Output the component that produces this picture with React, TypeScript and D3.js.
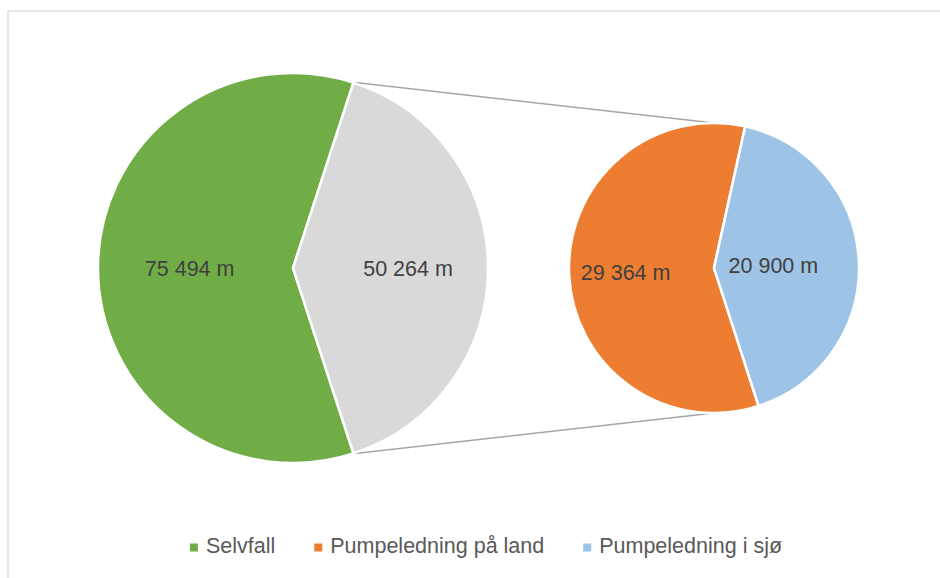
import React from "react";
import * as d3 from "d3";

const mainCategories = ["Selvfall", "Annet"];
const mainValues = [75494, 50264];
const subCategories = ["Pumpeledning på land", "Pumpeledning i sjø"];
const subValues = [29364, 20900];
const legendLabels = ["Selvfall", "Pumpeledning på land", "Pumpeledning i sjø"];
const mainColors = ["#70ad47", "#d9d9d9"];
const subColors = ["#ed7d31", "#9dc3e6"];
const legendColors = ["#70ad47", "#ed7d31", "#9dc3e6"];

const W = 940;
const H = 578;
const FONT = "'Liberation Sans', Arial, sans-serif";
const FS = 21.5;

const fmt = (v: number) => d3.format(",")(v).replace(/,/g, " ") + " m";

function measure(text: string): number {
  if (typeof document === "undefined") return text.length * FS * 0.5;
  const c = document.createElement("canvas");
  const ctx = c.getContext("2d");
  if (!ctx) return text.length * FS * 0.5;
  ctx.font = `${FS}px 'Liberation Sans', Arial, sans-serif`;
  return ctx.measureText(text).width;
}

export default function App() {
  const deg = Math.PI / 180;
  // main pie
  const mc: [number, number] = [293, 268];
  const mr = 195;
  const mainTotal = d3.sum(mainValues);
  const otherAngle = (mainValues[1] / mainTotal) * 2 * Math.PI;
  const mStart = Math.PI / 2 + otherAngle / 2;
  const mainPie = d3.pie<number>().sort(null).startAngle(mStart).endAngle(mStart + 2 * Math.PI);
  const mainArcs = mainPie(mainValues);
  const mainArc = d3.arc<d3.PieArcDatum<number>>().innerRadius(0).outerRadius(mr);

  // secondary pie
  const sc: [number, number] = [714, 268];
  const sr = 145;
  const sStart = 162.1 * deg;
  const subPie = d3.pie<number>().sort(null).startAngle(sStart).endAngle(sStart + 2 * Math.PI);
  const subArcs = subPie(subValues);
  const subArc = d3.arc<d3.PieArcDatum<number>>().innerRadius(0).outerRadius(sr);

  const mainLabelFrac = [0.53, 0.59];
  const subLabelFrac = [0.61, 0.41];

  const labelPos = (a: d3.PieArcDatum<number>, r: number, c: [number, number]) => {
    const ang = (a.startAngle + a.endAngle) / 2;
    return [c[0] + r * Math.sin(ang), c[1] - r * Math.cos(ang)];
  };

  // connector lines
  const other = mainArcs[1];
  const p1 = [mc[0] + mr * Math.sin(other.startAngle), mc[1] - mr * Math.cos(other.startAngle)];
  const p2 = [mc[0] + mr * Math.sin(other.endAngle), mc[1] - mr * Math.cos(other.endAngle)];
  const q1 = [sc[0], sc[1] - sr];
  const q2 = [sc[0], sc[1] + sr];

  // legend
  const sq = 8;
  const gapText = 8;
  const gapItem = 39;
  const widths = legendLabels.map(measure);
  const total = d3.sum(widths) + legendLabels.length * (sq + gapText) + gapItem * (legendLabels.length - 1);
  let lx = 486 - total / 2;
  const legendItems = legendLabels.map((l, i) => {
    const x = lx;
    lx += sq + gapText + widths[i] + gapItem;
    return { l, x, color: legendColors[i] };
  });

  return (
    <svg width={W} height={H} style={{ position: "absolute", left: 0, top: 0, background: "#fff" }}>
      <rect x={8} y={11} width={1000} height={1000} fill="#fff" stroke="#d9d9d9" strokeWidth={1.3} />
      <line x1={p1[0] + 2} y1={p1[1]} x2={q1[0]} y2={q1[1]} stroke="#a6a6a6" strokeWidth={1.5} />
      <line x1={p2[0] + 2} y1={p2[1]} x2={q2[0]} y2={q2[1]} stroke="#a6a6a6" strokeWidth={1.5} />
      <g transform={`translate(${mc[0]},${mc[1]})`}>
        {mainArcs.map((a, i) => (
          <path key={mainCategories[i]} d={mainArc(a) || ""} fill={mainColors[i]} stroke="#fff" strokeWidth={2.5} strokeLinejoin="miter" />
        ))}
      </g>
      <g transform={`translate(${sc[0]},${sc[1]})`}>
        {subArcs.map((a, i) => (
          <path key={subCategories[i]} d={subArc(a) || ""} fill={subColors[i]} stroke="#fff" strokeWidth={2.5} strokeLinejoin="miter" />
        ))}
      </g>
      {mainArcs.map((a, i) => {
        const [x, y] = labelPos(a, mr * mainLabelFrac[i], mc);
        return (
          <text key={"ml" + i} x={x} y={y + 8} textAnchor="middle" fontFamily={FONT} fontSize={FS} fill="#404040">
            {fmt(mainValues[i])}
          </text>
        );
      })}
      {subArcs.map((a, i) => {
        const [x, y] = labelPos(a, sr * subLabelFrac[i], sc);
        return (
          <text key={"sl" + i} x={x} y={y + 8} textAnchor="middle" fontFamily={FONT} fontSize={FS} fill="#404040">
            {fmt(subValues[i])}
          </text>
        );
      })}
      {legendItems.map((it, i) => (
        <g key={it.l}>
          <rect x={it.x} y={543.5} width={sq} height={sq} fill={it.color} />
          <text x={it.x + sq + gapText} y={553} fontFamily={FONT} fontSize={FS} fill="#595959">
            {it.l}
          </text>
        </g>
      ))}
    </svg>
  );
}
